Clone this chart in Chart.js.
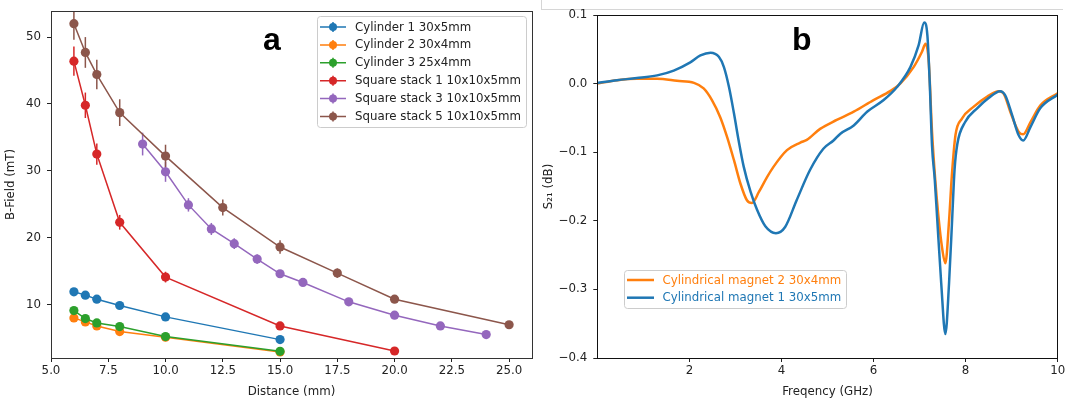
<!DOCTYPE html>
<html lang="en">
  <head>
    <meta charset="UTF-8" />
    <script src="https://cdn.jsdelivr.net/npm/chart.js@4.4.1/dist/chart.umd.min.js"></script>
    <title>Magnet field and S21</title>
    <style>
      body { margin: 0; background: #fff; }
      #wrap { position: relative; width: 1065px; height: 399px; overflow: hidden; }
      #chartA { position: absolute; left: 0; top: 0; }
      #chartB { position: absolute; left: 540px; top: 0; }
      #frame {
        position: absolute; left: 541px; top: 0; width: 521px; height: 9px;
        border-left: 1px solid #d6d6d6; border-bottom: 1px solid #d6d6d6;
      }
    </style>
  </head>
  <body>
    <div id="wrap">
      <div id="frame"></div>
      <canvas id="chartA" width="540" height="399"></canvas>
      <canvas id="chartB" width="525" height="399"></canvas>
    </div>
    <script>
      // ---- panel a: B-field vs distance ----
      const distCyl = [6, 6.5, 7, 8, 10, 15];
      const cyl1 = [11.9, 11.4, 10.8, 9.85, 8.15, 4.75];
      const cyl2 = [8.0, 7.4, 6.8, 5.95, 5.1, 2.9];
      const cyl3 = [9.1, 7.9, 7.25, 6.7, 5.2, 3.0];
      const cylErr = [0.2, 0.2, 0.2, 0.2, 0.2, 0.1];

      const distSq1 = [6, 6.5, 7, 8, 10, 15, 20];
      const sq1 = [46.4, 39.8, 32.5, 22.3, 14.1, 6.8, 3.05];
      const sq1Err = [2.2, 1.9, 1.6, 1.1, 0.8, 0.3, 0.2];

      const distSq3 = [9, 10, 11, 12, 13, 14, 15, 16, 18, 20, 22, 24];
      const sq3 = [34.0, 29.85, 24.9, 21.3, 19.1, 16.8, 14.6, 13.3, 10.4, 8.4, 6.8, 5.5];
      const sq3Err = [1.7, 1.5, 1.0, 0.9, 0.8, 0.7, 0.5, 0.3, 0.3, 0.3, 0.2, 0.2];

      const distSq5 = [6, 6.5, 7, 8, 10, 12.5, 15, 17.5, 20, 25];
      const sq5 = [52.0, 47.7, 44.4, 38.7, 32.2, 24.5, 18.6, 14.7, 10.8, 6.97];
      const sq5Err = [2.4, 2.3, 2.2, 2.0, 1.7, 1.2, 1.0, 0.7, 0.4, 0.3];

      const namesA = [
        "Cylinder 1 30x5mm", "Cylinder 2 30x4mm", "Cylinder 3 25x4mm",
        "Square stack 1 10x10x5mm", "Square stack 3 10x10x5mm", "Square stack 5 10x10x5mm"
      ];
      const colorsA = ["#1f77b4", "#ff7f0e", "#2ca02c", "#d62728", "#9467bd", "#8c564b"];
      const xTicksA = [5, 7.5, 10, 12.5, 15, 17.5, 20, 22.5, 25];
      const yTicksA = [10, 20, 30, 40, 50];

      // ---- panel b: S21 vs frequency ----
      const freqMag1 = [0, 0.43, 0.86, 1.3, 1.66, 2.02, 2.24, 2.46, 2.64, 2.75, 2.86, 2.97, 3.07, 3.18,
        3.33, 3.47, 3.65, 3.88, 4.08, 4.33, 4.62, 4.91, 5.13, 5.28, 5.57, 5.86, 6.22, 6.51, 6.8, 6.98,
        7.1, 7.17, 7.22, 7.27, 7.33, 7.38, 7.47, 7.56, 7.64, 7.71, 7.76, 7.82, 7.99, 8.25, 8.5, 8.75,
        8.86, 9.01, 9.15, 9.25, 9.41, 9.62, 10.0];
      const s21Mag1 = [0.001, 0.005, 0.008, 0.012, 0.019, 0.031, 0.041, 0.045, 0.039, 0.024, -0.005,
        -0.044, -0.083, -0.121, -0.158, -0.184, -0.208, -0.218, -0.209, -0.17, -0.126, -0.095, -0.083,
        -0.073, -0.061, -0.041, -0.024, -0.005, 0.024, 0.056, 0.089, 0.07, 0.002, -0.09, -0.14, -0.194,
        -0.291, -0.365, -0.291, -0.194, -0.125, -0.088, -0.056, -0.036, -0.021, -0.011, -0.017, -0.046,
        -0.075, -0.083, -0.063, -0.036, -0.016];

      const freqMag2 = [0, 0.43, 0.86, 1.3, 1.73, 2.1, 2.31, 2.49, 2.67, 2.82, 2.97, 3.11, 3.25, 3.36,
        3.51, 3.69, 3.83, 4.12, 4.41, 4.55, 4.84, 5.2, 5.57, 6.0, 6.36, 6.58, 6.87, 7.05, 7.13, 7.2,
        7.27, 7.34, 7.41, 7.49, 7.56, 7.64, 7.7, 7.78, 7.92, 8.17, 8.47, 8.72, 8.83, 8.97, 9.15, 9.25,
        9.41, 9.62, 10.0];
      const s21Mag2 = [0.0, 0.005, 0.007, 0.007, 0.004, 0.001, -0.007, -0.024, -0.049, -0.078, -0.112,
        -0.146, -0.17, -0.174, -0.158, -0.136, -0.121, -0.097, -0.086, -0.082, -0.066, -0.053, -0.041,
        -0.024, -0.011, 0.0, 0.024, 0.046, 0.058, 0.031, -0.07, -0.14, -0.194, -0.24, -0.262, -0.2,
        -0.135, -0.075, -0.051, -0.034, -0.019, -0.011, -0.015, -0.041, -0.07, -0.074, -0.056, -0.032,
        -0.014];

      const xTicksB = [2, 4, 6, 8, 10];
      const yTicksB = [-0.4, -0.3, -0.2, -0.1, 0.0, 0.1];

      const font = "DejaVu Sans";
      const fontSize = 11.8;
      Chart.defaults.font.family = font;
      Chart.defaults.font.size = fontSize;
      Chart.defaults.color = "#222";
      Chart.defaults.animation = false;

      function pts(xs, ys) {
        return xs.map((x, i) => ({ x: x, y: ys[i] }));
      }

      // box around the plot area + panel letter
      const framePlugin = {
        id: "frame",
        afterDraw(chart, args, opts) {
          const { ctx, chartArea: a } = chart;
          ctx.save();
          ctx.strokeStyle = opts.color;
          ctx.lineWidth = 1;
          ctx.strokeRect(Math.round(a.left) + 0.5, Math.round(a.top) + 0.5,
            Math.round(a.right - a.left), Math.round(a.bottom - a.top));
          ctx.fillStyle = "#000";
          ctx.font = "bold 32px 'Liberation Sans'";
          ctx.textBaseline = "alphabetic";
          ctx.fillText(opts.letter, opts.lx, opts.ly);
          ctx.restore();
        }
      };

      const errorBarPlugin = {
        id: "errbars",
        beforeDatasetsDraw(chart) {
          const { ctx, chartArea: a } = chart;
          const xs = chart.scales.x, ys = chart.scales.y;
          ctx.save();
          ctx.beginPath();
          ctx.rect(a.left, a.top, a.right - a.left, a.bottom - a.top);
          ctx.clip();
          chart.data.datasets.forEach((ds) => {
            if (!ds.errors) return;
            ctx.strokeStyle = ds.borderColor;
            ctx.lineWidth = 1.5;
            ds.data.forEach((p, i) => {
              const px = xs.getPixelForValue(p.x);
              ctx.beginPath();
              ctx.moveTo(px, ys.getPixelForValue(p.y - ds.errors[i]));
              ctx.lineTo(px, ys.getPixelForValue(p.y + ds.errors[i]));
              ctx.stroke();
            });
          });
          ctx.restore();
        }
      };

      const legendAPlugin = {
        id: "legendA",
        afterDraw(chart) {
          const ctx = chart.ctx;
          ctx.save();
          ctx.fillStyle = "rgba(255,255,255,0.8)";
          ctx.strokeStyle = "#cccccc";
          ctx.lineWidth = 1;
          ctx.beginPath();
          ctx.roundRect(317.5, 16.5, 209, 111, 3);
          ctx.fill();
          ctx.stroke();
          ctx.font = fontSize + "px '" + font + "'";
          ctx.textBaseline = "middle";
          namesA.forEach((name, i) => {
            const y = 27 + i * 17.9;
            ctx.strokeStyle = colorsA[i];
            ctx.fillStyle = colorsA[i];
            ctx.lineWidth = 1.5;
            ctx.beginPath();
            ctx.moveTo(320, y);
            ctx.lineTo(346, y);
            ctx.moveTo(333, y - 5);
            ctx.lineTo(333, y + 5);
            ctx.stroke();
            ctx.beginPath();
            ctx.arc(333, y, 4, 0, Math.PI * 2);
            ctx.fill();
            ctx.fillStyle = "#222";
            ctx.fillText(name, 355, y + 0.5);
          });
          ctx.restore();
        }
      };

      const legendBPlugin = {
        id: "legendB",
        afterDraw(chart) {
          const ctx = chart.ctx;
          ctx.save();
          ctx.fillStyle = "rgba(255,255,255,0.8)";
          ctx.strokeStyle = "#cccccc";
          ctx.lineWidth = 1;
          ctx.beginPath();
          ctx.roundRect(84.5, 270.5, 222, 38, 3);
          ctx.fill();
          ctx.stroke();
          ctx.font = fontSize + "px '" + font + "'";
          ctx.textBaseline = "middle";
          const items = [chart.data.datasets[1], chart.data.datasets[0]];
          items.forEach((ds, i) => {
            const y = 280 + i * 17.7;
            ctx.strokeStyle = ds.borderColor;
            ctx.lineWidth = 2.5;
            ctx.beginPath();
            ctx.moveTo(87, y);
            ctx.lineTo(114, y);
            ctx.stroke();
            ctx.fillStyle = ds.borderColor;
            ctx.fillText(ds.label, 122.5, y + 0.5);
          });
          ctx.restore();
        }
      };

      function axisCommon(ticksArr, fmt, pad) {
        return {
          type: "linear",
          afterBuildTicks: (s) => { s.ticks = ticksArr.map((v) => ({ value: v })); },
          grid: { display: true, drawOnChartArea: false, drawTicks: true, tickLength: 4, color: "#222" },
          border: { display: false },
          ticks: { callback: fmt, autoSkip: false, maxRotation: 0, padding: pad, color: "#222" }
        };
      }

      // panel a
      const dataA = [
        [distCyl, cyl1, cylErr], [distCyl, cyl2, cylErr], [distCyl, cyl3, cylErr],
        [distSq1, sq1, sq1Err], [distSq3, sq3, sq3Err], [distSq5, sq5, sq5Err]
      ];
      const xA = axisCommon(xTicksA, (v) => v.toFixed(1), 2);
      xA.min = 5; xA.max = 26;
      xA.title = { display: true, text: "Distance (mm)", color: "#222", padding: { top: 3.5, bottom: 0 } };
      xA.afterFit = (s) => { s.height = 41; s.paddingLeft = 0; s.paddingRight = 0; };
      const yA = axisCommon(yTicksA, (v) => String(v), 6);
      yA.min = 2.0; yA.max = 53.9;
      yA.title = { display: true, text: "B-Field (mT)", color: "#222", padding: { top: 3.5, bottom: 0 } };
      yA.afterFit = (s) => { s.width = 51; s.paddingTop = 0; s.paddingBottom = 0; };

      new Chart(document.getElementById("chartA"), {
        type: "scatter",
        data: {
          datasets: dataA.map((d, i) => ({
            label: namesA[i],
            data: pts(d[0], d[1]),
            errors: d[2],
            showLine: true,
            borderColor: colorsA[i],
            backgroundColor: colorsA[i],
            borderWidth: 1.5,
            pointRadius: 4.6,
            pointBorderWidth: 0,
            order: 5 - i
          }))
        },
        options: {
          responsive: false,
          events: [],
          layout: { padding: { top: 11, right: 8, left: 0, bottom: 0 } },
          scales: { x: xA, y: yA },
          plugins: {
            legend: { display: false },
            tooltip: { enabled: false },
            frame: { color: "#333", letter: "a", lx: 263, ly: 50 }
          }
        },
        plugins: [errorBarPlugin, framePlugin, legendAPlugin]
      });

      // panel b
      const xB = axisCommon(xTicksB, (v) => String(v), 2);
      xB.min = 0; xB.max = 10;
      xB.title = { display: true, text: "Freqency (GHz)", color: "#222", padding: { top: 3.5, bottom: 0 } };
      xB.afterFit = (s) => { s.height = 41; s.paddingLeft = 0; s.paddingRight = 0; };
      const yB = axisCommon(yTicksB, (v) => (v < 0 ? "\u2212" : "") + Math.abs(v).toFixed(1), 6);
      yB.min = -0.4; yB.max = 0.1;
      yB.title = { display: true, text: "S\u2082\u2081 (dB)", color: "#222", padding: { top: 2, bottom: 0 } };
      yB.afterFit = (s) => { s.width = 57.3; s.paddingTop = 0; s.paddingBottom = 0; };

      new Chart(document.getElementById("chartB"), {
        type: "scatter",
        data: {
          datasets: [
            {
              label: "Cylindrical magnet 1 30x5mm",
              data: pts(freqMag1, s21Mag1),
              borderColor: "#1f77b4"
            },
            {
              label: "Cylindrical magnet 2 30x4mm",
              data: pts(freqMag2, s21Mag2),
              borderColor: "#ff7f0e"
            }
          ].map((ds) => Object.assign(ds, {
            showLine: true,
            borderWidth: 2.5,
            pointRadius: 0,
            cubicInterpolationMode: "monotone"
          }))
        },
        options: {
          responsive: false,
          events: [],
          layout: { padding: { top: 15, right: 7.3, left: 0, bottom: 0 } },
          scales: { x: xB, y: yB },
          plugins: {
            legend: { display: false },
            tooltip: { enabled: false },
            frame: { color: "#111", letter: "b", lx: 252, ly: 50 }
          }
        },
        plugins: [framePlugin, legendBPlugin]
      });
    </script>
  </body>
</html>
